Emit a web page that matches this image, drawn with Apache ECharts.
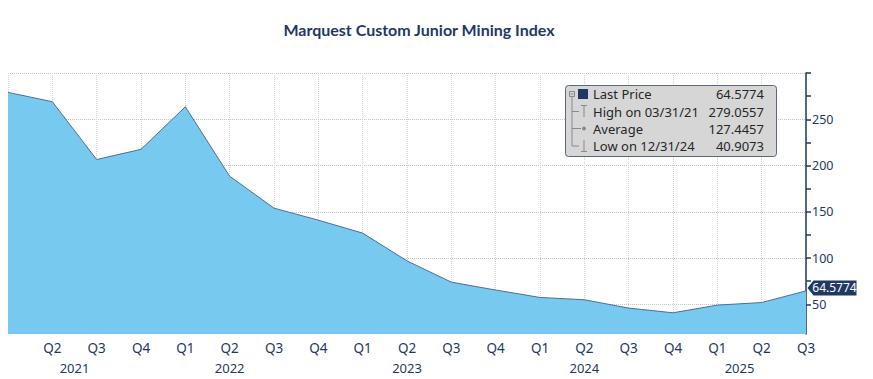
<!DOCTYPE html>
<html><head><meta charset="utf-8">
<script src="https://cdn.jsdelivr.net/npm/echarts@6/dist/echarts.min.js"></script>
<style>html,body{margin:0;padding:0;background:#fff}#c{width:873px;height:379px}</style>
</head><body><div id="c"></div>
<script>
const chartTitle = 'Marquest Custom Junior Mining Index';
const quarters = ['Q1','Q2','Q3','Q4','Q1','Q2','Q3','Q4','Q1','Q2','Q3','Q4','Q1','Q2','Q3','Q4','Q1','Q2','Q3'];
const quarterYears = ['2021','2021','2021','2021','2022','2022','2022','2022','2023','2023','2023','2023','2024','2024','2024','2024','2025','2025','2025'];
const years = ['2021','2022','2023','2024','2025'];
const prices = [279.0557, 269.0, 206.5, 217.5, 263.5, 188.5, 154.0, 141.0, 127.0, 97.0, 74.0, 65.5, 57.5, 55.0, 46.0, 40.9073, 49.2, 52.0, 64.5774];
const yTickLabels = [50, 100, 150, 200, 250];
const yAllTicks = [50, 75, 100, 125, 150, 175, 200, 225, 250, 275, 300];
const yGridLines = [50, 100, 150, 200, 250, 300];
const lastPrice = 64.5774;
const highValue = 279.0557, highDate = '03/31/21';
const averageValue = 127.4457;
const lowValue = 40.9073, lowDate = '12/31/24';

// year label positions: centred on each year's span of the quarterly axis
const yearPos = years.map(function (y) {
  const i0 = quarterYears.indexOf(y), i1 = quarterYears.lastIndexOf(y);
  return (Math.max(0, i0 - 1) + i1) / 2;
});

const NAVY = '#1F3864';
const FONT = 'Noto Sans';
const chart = echarts.init(document.getElementById('c'), null, {renderer: 'svg'});

const rowY = [94, 111.5, 128.5, 146];
const legendRows = [
  ['Last Price', lastPrice.toFixed(4)],
  ['High on ' + highDate, highValue.toFixed(4)],
  ['Average', averageValue.toFixed(4)],
  ['Low on ' + lowDate, lowValue.toFixed(4)]
];
const gray = '#8A8A8A';
const graphics = [
  {type: 'rect', shape: {x: 565.5, y: 85.5, width: 211, height: 71, r: 3}, style: {fill: '#D6D6D6', stroke: '#5B6685', lineWidth: 1}, z: 10},
  {type: 'rect', shape: {x: 569.5, y: 91.5, width: 5, height: 5}, style: {fill: 'none', stroke: gray, lineWidth: 1}, z: 11},
  {type: 'line', shape: {x1: 570.5, y1: 94, x2: 573.5, y2: 94}, style: {stroke: gray, lineWidth: 1}, z: 11},
  {type: 'rect', shape: {x: 578, y: 89, width: 10, height: 10}, style: {fill: NAVY}, z: 11},
  {type: 'line', shape: {x1: 572, y1: 97, x2: 572, y2: 146}, style: {stroke: gray, lineWidth: 1}, z: 11},
  {type: 'line', shape: {x1: 572, y1: 111.5, x2: 579, y2: 111.5}, style: {stroke: gray, lineWidth: 1}, z: 11},
  {type: 'line', shape: {x1: 572, y1: 128.5, x2: 581, y2: 128.5}, style: {stroke: gray, lineWidth: 1}, z: 11},
  {type: 'line', shape: {x1: 572, y1: 146, x2: 579, y2: 146}, style: {stroke: gray, lineWidth: 1}, z: 11},
  {type: 'line', shape: {x1: 584, y1: 105.5, x2: 584, y2: 117}, style: {stroke: gray, lineWidth: 1}, z: 11},
  {type: 'line', shape: {x1: 581, y1: 105.5, x2: 587, y2: 105.5}, style: {stroke: gray, lineWidth: 1}, z: 11},
  {type: 'circle', shape: {cx: 584, cy: 128.5, r: 2}, style: {fill: gray}, z: 11},
  {type: 'line', shape: {x1: 584, y1: 140, x2: 584, y2: 151.5}, style: {stroke: gray, lineWidth: 1}, z: 11},
  {type: 'line', shape: {x1: 581, y1: 151.5, x2: 587, y2: 151.5}, style: {stroke: gray, lineWidth: 1}, z: 11}
];
legendRows.forEach(function (r, i) {
  graphics.push({type: 'text', x: 593, y: rowY[i], z: 12, style: {text: r[0], fill: '#262626', font: '13px "Noto Sans"', textVerticalAlign: 'middle', verticalAlign: 'middle'}});
  graphics.push({type: 'text', x: 764, y: rowY[i], z: 12, style: {text: r[1], fill: '#262626', font: '13px "Noto Sans"', textAlign: 'right', align: 'right', textVerticalAlign: 'middle', verticalAlign: 'middle'}});
});

chart.setOption({
  animation: false,
  backgroundColor: '#ffffff',
  title: {text: chartTitle, left: 414, top: 16, textAlign: 'center',
    textStyle: {color: NAVY, fontSize: 16, fontWeight: 'bold', fontFamily: 'Lato'}},
  grid: {left: 8, right: 67, top: 73, bottom: 45, containLabel: false},
  xAxis: [
    {type: 'category', data: quarters, boundaryGap: false,
      axisLine: {show: false}, axisTick: {show: false},
      axisLabel: {interval: 0, color: NAVY, fontSize: 13.5, fontFamily: FONT, margin: 7,
        formatter: function (v, i) { return i === 0 ? '' : v; }},
      splitLine: {show: true, interval: 0, lineStyle: {color: '#D2D2D2', type: 'dotted', width: 1}}},
    {type: 'value', min: 0, max: 18, position: 'bottom', offset: 20,
      axisLine: {show: false}, axisTick: {show: false}, splitLine: {show: false},
      axisLabel: {customValues: yearPos, color: NAVY, fontSize: 13, fontFamily: FONT, margin: 7,
        formatter: function (v) { const k = yearPos.indexOf(v); return k >= 0 ? years[k] : ''; }}}
  ],
  yAxis: [
    {type: 'value', position: 'right', min: 18, max: 300,
      axisLine: {show: true, onZero: false, lineStyle: {color: NAVY, width: 1.5}},
      axisTick: {show: true, customValues: yAllTicks, length: 5, lineStyle: {color: NAVY, width: 1.5}},
      axisLabel: {customValues: yTickLabels, color: NAVY, fontSize: 12.5, fontFamily: FONT, margin: 6},
      splitLine: {show: false}},
    {type: 'value', position: 'left', min: 18, max: 300,
      axisLine: {show: false}, axisTick: {show: false, customValues: yGridLines},
      axisLabel: {show: false},
      splitLine: {show: true, lineStyle: {color: '#C4C4C4', type: 'dotted', width: 1}}}
  ],
  series: [{
    type: 'line', data: prices, xAxisIndex: 0, yAxisIndex: 0,
    symbol: 'none', silent: true,
    lineStyle: {color: '#4C6E98', width: 1},
    areaStyle: {color: '#78C9F0', opacity: 1, origin: 'start'},
    markPoint: {
      silent: true,
      symbol: 'path://M0,7.5 L6,0 L49,0 L49,15 L6,15 Z',
      symbolSize: [49, 15], symbolKeepAspect: false,
      symbolOffset: [26, -3],
      itemStyle: {color: NAVY},
      label: {show: true, position: 'inside', offset: [2.5, 0], color: '#ffffff', fontSize: 12, fontFamily: FONT,
        formatter: function (p) { return p.value.toFixed(4); }},
      data: [{coord: [prices.length - 1, prices[prices.length - 1]], value: prices[prices.length - 1]}]
    }
  }],
  graphic: graphics
});
</script></body></html>
